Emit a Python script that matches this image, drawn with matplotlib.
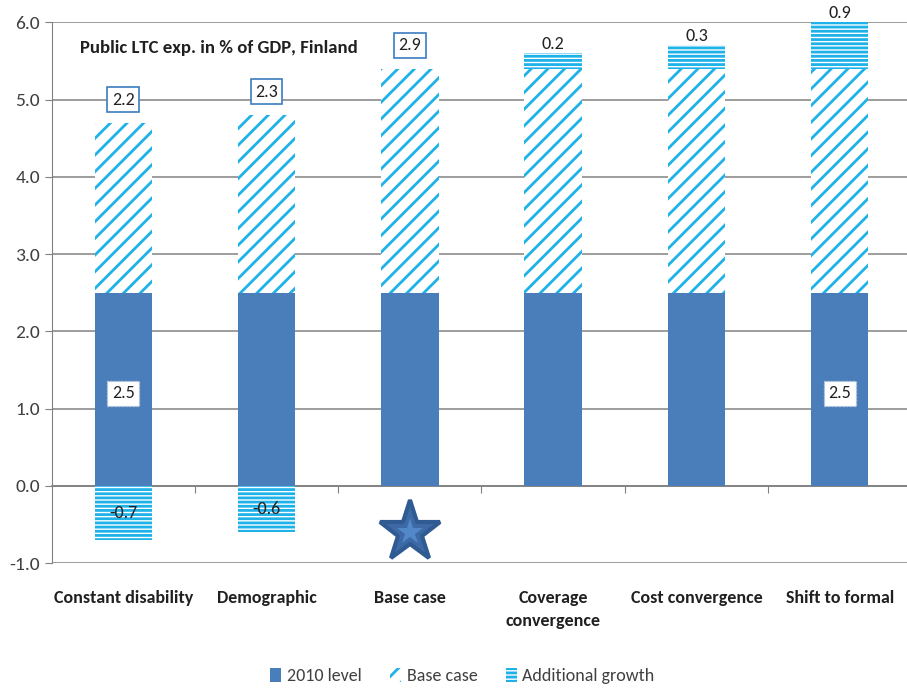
import numpy as np
import matplotlib
matplotlib.use("Agg")
import matplotlib.pyplot as plt
from matplotlib.ticker import FormatStrFormatter
from matplotlib.transforms import blended_transform_factory

plt.rcParams["font.family"] = ["Carlito", "DejaVu Sans"]
plt.rcParams["hatch.linewidth"] = 2.0

scenarios = ["Constant disability", "Demographic", "Base case",
             "Coverage\nconvergence", "Cost convergence", "Shift to formal"]
level_2010 = [2.5, 2.5, 2.5, 2.5, 2.5, 2.5]
base_case = [2.2, 2.3, 2.9, 2.9, 2.9, 2.9]
additional = [-0.7, -0.6, 0.0, 0.2, 0.3, 0.9]

solid_blue = "#4a7ebb"
hatch_blue = "#1fb2e8"

fig = plt.figure(figsize=(9.07, 6.97), dpi=100)
ax = fig.add_axes([0.057, 0.192, 0.943, 0.776])

x = np.arange(len(scenarios))
w = 0.4
lvl = np.array(level_2010)
bc = np.array(base_case)
add = np.array(additional)

ax.bar(x, lvl, w, color=solid_blue, label="2010 level", zorder=3)
ax.bar(x, bc, w, bottom=lvl, color="white", edgecolor=hatch_blue,
       hatch="//", linewidth=0, label="Base case", zorder=3)
# negative growth hangs below zero, positive growth sits on top
add_bottom = np.where(add < 0, 0, lvl + bc)
ax.bar(x, add, w, bottom=add_bottom, color="white", edgecolor=hatch_blue,
       hatch="----", linewidth=0, label="Additional growth", zorder=3)

ax.set_ylim(-1.0, 6.0)
ax.set_xlim(-0.5, len(scenarios) - 0.53)
ax.set_yticks(np.arange(-1, 7, 1))
ax.yaxis.set_major_formatter(FormatStrFormatter("%.1f"))
ax.tick_params(axis="y", labelsize=14, colors="#404040", length=5,
               direction="out", color="#808080")
ax.grid(axis="y", color="#8c8c8c", linewidth=1.2, zorder=0)

for s in ["top", "right"]:
    ax.spines[s].set_visible(False)
ax.spines["left"].set_color("#808080")
ax.spines["bottom"].set_position(("data", 0))
ax.spines["bottom"].set_color("#808080")
ax.spines["bottom"].set_linewidth(1.2)
ax.set_xticks(x[:-1] + 0.5)
ax.set_xticklabels([])
ax.tick_params(axis="x", direction="out", length=5, color="#808080")

trans = blended_transform_factory(ax.transData, ax.transAxes)
for i, name in enumerate(scenarios):
    ax.text(i, -0.05, name, transform=trans, ha="center", va="top",
            fontsize=13, fontweight="bold", color="#202020",
            linespacing=1.55)

box_style = dict(boxstyle="square,pad=0.25", facecolor="white",
                 edgecolor="#3a7dbf", linewidth=1.2)
lbl_kw = dict(ha="center", va="center", fontsize=13, color="#202020",
              zorder=5)

# 2010 level labels on the first and last bars
for i in [0, len(scenarios) - 1]:
    ax.text(i, 1.2, f"{level_2010[i]:.1f}",
            bbox=dict(boxstyle="square,pad=0.25", facecolor="white",
                      edgecolor="#c0c8d8", linestyle=":", linewidth=1),
            **lbl_kw)

# base case increments, boxed above the bar where no extra growth is shown
for i in range(3):
    ax.text(i, lvl[i] + bc[i] + 0.3, f"{base_case[i]:.1f}",
            bbox=box_style, **lbl_kw)

# additional growth labels
for i, v in enumerate(additional):
    if v < 0:
        ax.text(i, v / 2, f"{v:.1f}", **lbl_kw)
    elif v > 0:
        top = min(lvl[i] + bc[i] + v, 6.0)
        ax.text(i, top + 0.12, f"{v:.1f}", clip_on=False, **lbl_kw)

# star under the base case scenario
ax.plot(2, -0.6, marker="*", markersize=46, color="#3d6aa6",
        markeredgecolor="#2f5b92", markeredgewidth=3, zorder=4,
        clip_on=False)
ax.plot(2, -0.6, marker="*", markersize=20, color="#5288c8",
        markeredgewidth=0, zorder=4, clip_on=False)

ax.text(-0.3, 5.67, "Public LTC exp. in % of GDP, Finland", ha="left",
        va="center", fontsize=13.5, fontweight="bold", color="#202020",
        zorder=5)

fig.legend(loc="lower center", bbox_to_anchor=(0.51, -0.005), ncol=3,
           frameon=False, fontsize=13, handlelength=0.6, handleheight=0.9,
           handletextpad=0.3, columnspacing=1.6, labelcolor="#404040")

fig.savefig("out.png", dpi=100)
